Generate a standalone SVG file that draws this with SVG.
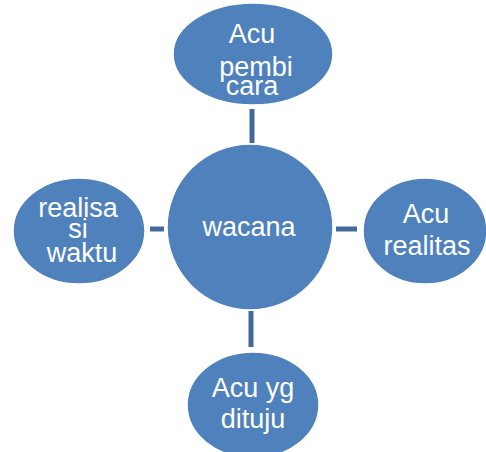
<svg xmlns="http://www.w3.org/2000/svg" width="486" height="452" viewBox="0 0 486 452">
<style>
.n{fill:#4F81BD;stroke:#ffffff;stroke-width:1.5}
.t{font-family:"Liberation Sans",Arial,sans-serif;font-size:27px;fill:#ffffff;text-anchor:middle}
.c{stroke:#41699A;stroke-width:5;fill:none}
</style>
<rect width="486" height="452" fill="#ffffff"/>
<g id="connectors">
<line class="c" x1="252" y1="109" x2="252" y2="143"/>
<line class="c" x1="150" y1="229" x2="164" y2="229"/>
<line class="c" x1="336" y1="229" x2="357" y2="229"/>
<line class="c" x1="251" y1="311" x2="251" y2="347"/>
</g>
<g id="wacana">
<circle class="n" cx="250" cy="227" r="83"/>
<text class="t" x="249" y="236">wacana</text>
</g>
<g id="acu-pembicara">
<ellipse class="n" cx="253" cy="54" rx="80" ry="51"/>
<text class="t" x="252" y="43">Acu</text>
<text class="t" x="256" y="76">pembi</text>
<text class="t" x="252" y="95">cara</text>
</g>
<g id="realisasi-waktu">
<ellipse class="n" cx="79" cy="231" rx="66" ry="53"/>
<text class="t" x="78" y="217">realisa</text>
<text class="t" x="78" y="238">si</text>
<text class="t" x="82" y="262">waktu</text>
</g>
<g id="acu-realitas">
<ellipse class="n" cx="425" cy="231" rx="62" ry="53"/>
<text class="t" x="426" y="223">Acu</text>
<text class="t" x="427" y="255">realitas</text>
</g>
<g id="acu-yg-dituju">
<ellipse class="n" cx="253" cy="405" rx="66" ry="53"/>
<text class="t" x="253" y="397">Acu yg</text>
<text class="t" x="253" y="428">dituju</text>
</g>
</svg>
